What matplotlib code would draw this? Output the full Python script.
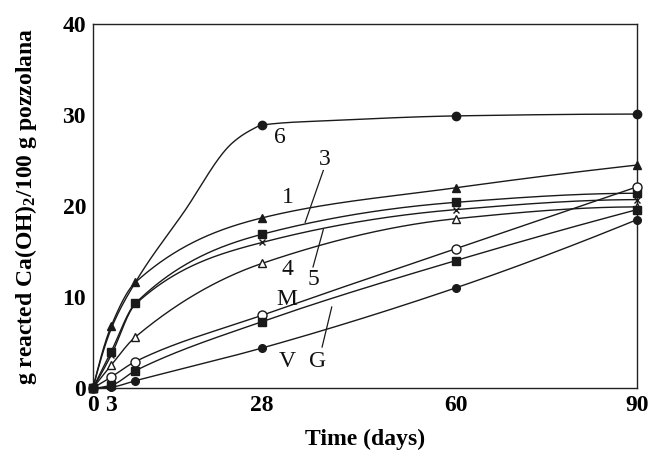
import numpy as np
import matplotlib
matplotlib.use("Agg")
import matplotlib.pyplot as plt

plt.rcParams['font.family'] = ['Liberation Serif', 'DejaVu Serif']
plt.rcParams['mathtext.default'] = 'regular'

# ---- data ----
days = [0, 3, 7, 28, 60, 90]
s1 = [0, 6.8, 11.6, 18.7, 22.0, 24.5]      # ▲ curve 1
s3 = [0, 4.0, 9.3, 16.9, 20.4, 21.4]       # ■ curve 3
s5 = [0, 3.6, 9.2, 16.0, 19.6, 20.7]       # × curve 5
s4 = [0, 2.5, 5.6, 13.7, 18.6, 19.9]       # △ curve 4
sM = [0, 1.2, 2.9, 8.0, 15.3, 22.1]        # ○ M
sG = [0, 0.3, 1.9, 7.3, 14.0, 19.6]        # ■ G
sV = [0, 0.1, 0.8, 4.4, 11.0, 18.5]        # ● V

# curve 6: marked points and the drawn curve
days6_marks = [28, 60, 90]
s6_marks = [28.9, 29.9, 30.1]
days6_line = [0, 3, 7, 15, 23, 26, 28, 40, 60, 90]
s6_line = [0, 6.5, 11.6, 19.3, 26.9, 28.3, 28.9, 29.4, 29.9, 30.1]

xticks = [0, 3, 28, 60, 90]
yticks = [0, 10, 20, 30, 40]


def pchip(x, y, xs):
    x = np.asarray(x, float); y = np.asarray(y, float)
    h = np.diff(x); d = np.diff(y) / h
    n = len(x); m = np.zeros(n)
    for k in range(1, n - 1):
        if d[k - 1] * d[k] <= 0:
            m[k] = 0
        else:
            w1 = 2 * h[k] + h[k - 1]; w2 = h[k] + 2 * h[k - 1]
            m[k] = (w1 + w2) / (w1 / d[k - 1] + w2 / d[k])
    def endslope(h0, h1, d0, d1):
        s = ((2 * h0 + h1) * d0 - h0 * d1) / (h0 + h1)
        if np.sign(s) != np.sign(d0):
            s = 0
        elif np.sign(d0) != np.sign(d1) and abs(s) > abs(3 * d0):
            s = 3 * d0
        return s
    m[0] = endslope(h[0], h[1], d[0], d[1])
    m[-1] = endslope(h[-1], h[-2], d[-1], d[-2])
    xs = np.asarray(xs, float)
    idx = np.clip(np.searchsorted(x, xs) - 1, 0, n - 2)
    t = (xs - x[idx]) / h[idx]
    h00 = 2 * t**3 - 3 * t**2 + 1; h10 = t**3 - 2 * t**2 + t
    h01 = -2 * t**3 + 3 * t**2; h11 = t**3 - t**2
    return h00 * y[idx] + h10 * h[idx] * m[idx] + h01 * y[idx + 1] + h11 * h[idx] * m[idx + 1]


fig = plt.figure(figsize=(6.48, 4.58), dpi=100)
ax = fig.add_axes([93 / 648, 1 - 388 / 458, (637 - 93) / 648, (388 - 24) / 458])

xs = np.linspace(0, 90, 400)
lc = '#1a1a1a'
lw = 1.0

series = [
    (s1, '^', lc, 6),
    (s3, 's', lc, 5.5),
    (s5, 'x', lc, 5),
    (s4, '^', 'white', 6),
    (sM, 'o', 'white', 6.5),
    (sV, 'o', lc, 5.5),
    (sG, 's', lc, 5.5),
]
for vals, mk, fc, ms in series:
    ax.plot(xs, pchip(days, vals, xs), color=lc, lw=lw, zorder=2)
    ax.plot(days, vals, linestyle='none', marker=mk, markersize=ms,
            markerfacecolor=fc, markeredgecolor=lc, markeredgewidth=1.0,
            zorder=3, clip_on=False)

ax.plot(xs, pchip(days6_line, s6_line, xs), color=lc, lw=lw, zorder=2)
ax.plot(days6_marks, s6_marks, linestyle='none', marker='o', markersize=6,
        color=lc, zorder=3, clip_on=False)

# curve labels
lab_kw = dict(fontsize=17, ha='center', va='center', color='#111111')
ax.text(30.9, 27.5, '6', **lab_kw)
ax.text(38.4, 25.1, '3', **lab_kw)
ax.text(32.3, 20.9, '1', **lab_kw)
ax.text(32.1, 13.0, '4', **lab_kw)
ax.text(36.4, 11.9, '5', **lab_kw)
ax.text(32.0, 9.7, 'M', **lab_kw)
ax.text(32.1, 2.9, 'V', **lab_kw)
ax.text(37.2, 2.9, 'G', **lab_kw)
# leader lines
ax.plot([38.1, 35.1], [23.9, 18.2], color=lc, lw=0.9)
ax.plot([36.4, 38.1], [13.3, 17.4], color=lc, lw=0.9)
ax.plot([37.9, 39.5], [4.5, 8.9], color=lc, lw=0.9)

ax.set_xlim(0, 90)
ax.set_ylim(0, 40)
ax.set_xticks(xticks)
ax.set_yticks(yticks)
ax.tick_params(length=0, labelsize=17, pad=5)
for lbl in ax.get_xticklabels() + ax.get_yticklabels():
    lbl.set_fontweight('bold')
for sp in ax.spines.values():
    sp.set_linewidth(1.0)
    sp.set_color('#222222')

ax.set_xlabel('Time (days)', fontsize=17, fontweight='bold', labelpad=9)
ax.set_ylabel('g reacted Ca(OH)$_2$/100 g pozzolana', fontsize=17,
              fontweight='bold', labelpad=17)

fig.savefig('out.png', dpi=100)
